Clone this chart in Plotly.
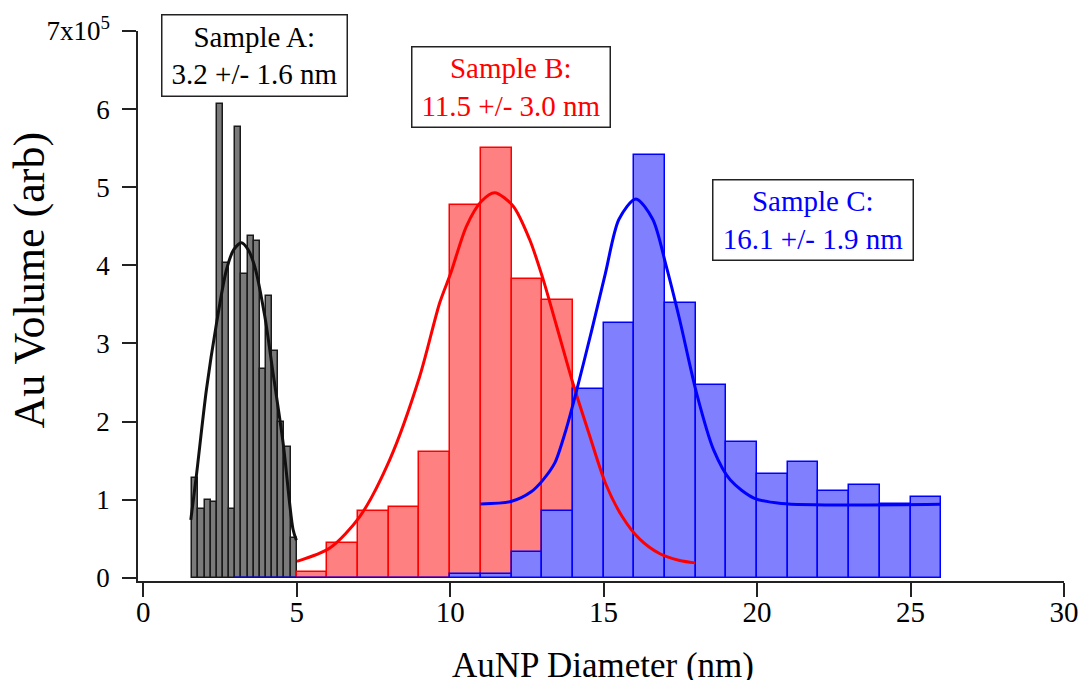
import plotly.graph_objects as go

# ---------------- data ----------------
# Sample A histogram: bin left edges (nm), bin width 0.2 nm, heights in units of 1e5
a_left = [1.6, 1.8, 2.0, 2.2, 2.4, 2.6, 2.8, 3.0, 3.2, 3.4, 3.6, 3.8, 4.0, 4.2, 4.4, 4.6, 4.8]
a_width = 0.2
a_vals = [1.28, 0.88, 1.00, 0.97, 6.07, 4.03, 0.88, 5.77, 3.89, 4.38, 4.31, 2.67, 3.61, 2.90, 1.99, 1.68, 0.51]

# Sample B histogram: bin width 1 nm
b_left = [5, 6, 7, 8, 9, 10, 11, 12, 13]
b_width = 1.0
b_vals = [0.07, 0.44, 0.86, 0.91, 1.61, 4.77, 5.50, 3.83, 3.56]

# Sample C histogram: bin width 1 nm
c_left = [3, 4, 5, 6, 7, 8, 9, 10, 11, 12, 13, 14, 15, 16, 17, 18, 19, 20, 21, 22, 23, 24, 25]
c_width = 1.0
c_vals = [0, 0, 0, 0, 0, 0, 0, 0.05, 0.05, 0.33, 0.86, 2.42, 3.26, 5.41, 3.52, 2.47,
          1.74, 1.33, 1.48, 1.11, 1.19, 0.95, 1.03]

# fit curves
a_fit_x = [1.55, 1.73, 2.06, 2.39, 2.71, 2.95, 3.20, 3.42, 3.63, 3.96, 4.23, 4.56, 4.88, 4.99]
a_fit_y = [0.74, 1.30, 2.41, 3.26, 3.94, 4.20, 4.29, 4.20, 3.99, 3.35, 2.62, 1.72, 0.62, 0.48]

b_fit_x = [5.01, 6.08, 7.05, 8.03, 9.01, 9.66, 10.02, 10.53, 11.02, 11.45, 12.05, 12.59,
           13.03, 13.47, 14.0, 14.52, 15.06, 15.61, 16.16, 16.82, 17.48, 17.98]
b_fit_y = [0.21, 0.38, 0.78, 1.51, 2.58, 3.52, 3.90, 4.50, 4.82, 4.93, 4.76, 4.33,
           3.82, 3.22, 2.49, 1.85, 1.21, 0.78, 0.50, 0.31, 0.22, 0.19]

c_fit_x = [10.99, 11.98, 12.64, 13.02, 13.41, 13.74, 14.07, 14.62, 15.06, 15.50, 16.05, 16.60,
           17.04, 17.48, 18.03, 18.58, 19.13, 19.90, 20.79, 25.96]
c_fit_y = [0.945, 0.975, 1.10, 1.25, 1.47, 1.85, 2.32, 3.18, 3.90, 4.59, 4.85, 4.59,
           3.99, 3.30, 2.36, 1.64, 1.25, 1.02, 0.95, 0.94]

x_ticks = [0, 5, 10, 15, 20, 25, 30]
y_ticks = [0, 1, 2, 3, 4, 5, 6, 7]
y_ticktext = ["0", "1", "2", "3", "4", "5", "6", "7x10<sup>5</sup>"]

labels = [
    ("Sample A:<br>3.2 +/- 1.6 nm", "#000000"),
    ("Sample B:<br>11.5 +/- 3.0 nm", "#ff0000"),
    ("Sample C:<br>16.1 +/- 1.9 nm", "#0000ff"),
]

# ---------------- figure ----------------
W, H = 1083, 680
ML, MR, MT, MB = 138, 19, 31, 99
PW, PH = W - ML - MR, H - MT - MB

def px2paper(px, py):
    return (px - ML) / PW, (H - MB - py) / PH

fig = go.Figure()

fig.add_trace(go.Bar(x=a_left, y=a_vals, width=[a_width] * len(a_left), offset=0,
                     marker=dict(color="#7a7a7a", line=dict(color="#1a1a1a", width=1.5)),
                     showlegend=False))
fig.add_trace(go.Bar(x=b_left, y=b_vals, width=[b_width] * len(b_left), offset=0,
                     marker=dict(color="#ff8080", line=dict(color="#ff0000", width=1.5)),
                     showlegend=False))
fig.add_trace(go.Bar(x=c_left, y=c_vals, width=[c_width] * len(c_left), offset=0,
                     marker=dict(color="#8080ff", line=dict(color="#0000ff", width=1.5)),
                     showlegend=False))

fig.add_trace(go.Scatter(x=a_fit_x, y=a_fit_y, mode="lines",
                         line=dict(color="#111111", width=3, shape="spline", smoothing=0.8),
                         showlegend=False))
fig.add_trace(go.Scatter(x=b_fit_x, y=b_fit_y, mode="lines",
                         line=dict(color="#ff0000", width=3, shape="spline", smoothing=0.8),
                         showlegend=False))
fig.add_trace(go.Scatter(x=c_fit_x, y=c_fit_y, mode="lines",
                         line=dict(color="#0000ff", width=3, shape="spline", smoothing=0.8),
                         showlegend=False))

axis_common = dict(showgrid=False, zeroline=False, showline=True, linecolor="#222222", linewidth=1.5,
                   ticks="outside", ticklen=14, tickwidth=1.5, tickcolor="#222222", automargin=False)

fig.update_layout(
    width=W, height=H,
    margin=dict(l=ML, r=MR, t=MT, b=MB, pad=0, autoexpand=False),
    paper_bgcolor="white", plot_bgcolor="white",
    barmode="overlay", bargap=0,
    font=dict(family="Liberation Serif", color="#000000"),
    xaxis=dict(range=[-0.17, 30], tickvals=x_ticks, ticktext=[str(v) for v in x_ticks],
               tickfont=dict(family="Liberation Serif", size=29, color="#000000"),
               ticklabelstandoff=-10, **axis_common),
    yaxis=dict(range=[-0.042, 7], tickvals=y_ticks, ticktext=y_ticktext,
               tickfont=dict(family="Liberation Serif", size=27, color="#000000"),
               ticklabelstandoff=7, **axis_common),
)

# axis titles
tx, ty = px2paper(602.5, 665)
fig.add_annotation(x=tx, y=ty, xref="paper", yref="paper", text="AuNP Diameter (nm)", showarrow=False,
                   xanchor="center", yanchor="middle",
                   font=dict(family="Liberation Serif", size=35, color="#000000"))
tx, ty = px2paper(28.5, 280)
fig.add_annotation(x=tx, y=ty, xref="paper", yref="paper", text="Au Volume (arb)", showarrow=False,
                   textangle=-90, xanchor="center", yanchor="middle",
                   font=dict(family="Liberation Serif", size=44, color="#000000"))

# sample boxes (centre px, outer size px)
boxes = [(254, 56, 186, 82), (511, 86.7, 199, 81), (813, 220, 201, 81)]
for (txt, col), (cx, cy, bw, bh) in zip(labels, boxes):
    px_, py_ = px2paper(cx, cy)
    fig.add_annotation(x=px_, y=py_, xref="paper", yref="paper", text=txt, showarrow=False,
                       xanchor="center", yanchor="middle", align="center", valign="middle",
                       width=bw - 4, height=bh - 4, borderpad=1,
                       bordercolor="#222222", borderwidth=1.5, bgcolor="white",
                       font=dict(family="Liberation Serif", size=29, color=col))

fig.write_html("out.html")
